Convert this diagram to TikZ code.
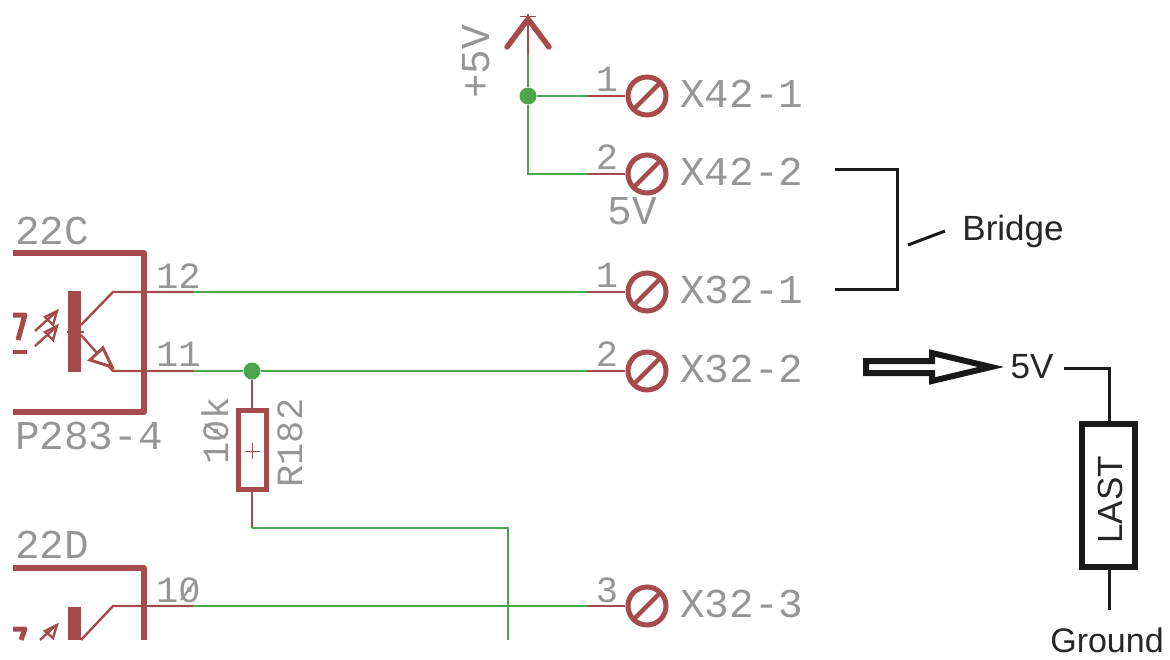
\documentclass[tikz,border=0pt]{standalone}
\usepackage{fontspec}
\setmainfont{Liberation Sans}
\newfontfamily\eaglefont{Liberation Mono}
\definecolor{sym}{HTML}{A54B4B}
\definecolor{net}{HTML}{4CA64C}
\definecolor{lbl}{HTML}{969696}
\usetikzlibrary{shapes.geometric,calc}
\tikzset{
  lab/.style={inner sep=0pt,text=lbl,font=\eaglefont\fontsize{41}{41}\selectfont},
  small/.style={inner sep=0pt,text=lbl,font=\eaglefont\fontsize{37}{37}\selectfont},
  blk/.style={inner sep=0pt,text=black!85,font=\fontsize{35}{35}\selectfont},
  symb/.style={draw=sym,line width=5.5pt,line join=round,line cap=round},
  pinw/.style={draw=sym,line width=2.4pt},
  netw/.style={draw=net,line width=2.8pt},
  term/.style={circle,draw=sym,line width=5pt,minimum size=38pt,inner sep=0pt,fill=white},
  dot/.style={circle,fill=net,inner sep=0pt,minimum size=17pt},
  bk/.style={draw=black!90,line width=3pt},
}
\begin{document}
\begin{tikzpicture}[x=1pt,y=-1pt]
\useasboundingbox (0,0) rectangle (1170,659);
% terminals
\foreach \n/\yy in {a/96,b/174,c/292,d/371,e/606}{
  \coordinate (w\n) at (587,\yy);
  \coordinate (p\n) at (625,\yy);
  \draw[pinw] (w\n) -- (p\n);
  \node[term] (t\n) at (647,\yy) {};
  \draw[draw=sym,line width=4.5pt] ($(t\n)+(-14,14)$) -- ($(t\n)+(14,-14)$);
}
% supply
\coordinate (sup) at (528,14);
\coordinate (supe) at (528,55);
\coordinate (corner) at (528,174);
\node[dot] (j1) at (528,96) {};
\draw[pinw] (sup) -- (supe);
\draw[netw] (supe) -- (j1);
\draw[netw] (j1) -- (wa);
\draw[netw] (j1) -- (corner) -- (wb);
\coordinate (hl) at (507,47);
\coordinate (hr) at (549,47);
\coordinate (ht) at (528,19);
\draw[symb,line width=5.5pt] (hl) -- (ht) -- (hr);
\draw[pinw,line width=1pt] (520,16) -- (536,16);
% optocoupler 22C
\draw[symb,line cap=butt] (13,253) -- (144,253) -- (144,412) -- (13,412);
\node[draw=none,fill=sym,minimum width=13pt,minimum height=81pt,inner sep=0pt] (bar1) at (74.5,331.5) {};
\coordinate (col1) at (193,292);
\coordinate (emi1) at (193,371);
\draw[pinw] (81,325) -- (113,292) -- (col1);
\draw[pinw] (81,335) -- (113,371) -- (emi1);
\draw[pinw,line width=1.4pt] (67,332) -- (84,332);
\draw[pinw,fill=white,line width=3pt] (90,360) -- (103,348) -- (112,367) -- cycle;
\foreach \dy in {0,15}{
  \draw[pinw] (35,331+\dy) -- (56,312+\dy);
  \draw[pinw,fill=none] (45,317+\dy) -- (57,311+\dy) -- (53,325+\dy) -- cycle;
}
\draw[symb,line cap=butt,line width=5pt] (13,315) -- (25,315) -- (18,340);
\draw[symb,line cap=butt,line width=4pt] (13,352) -- (27,352);
% wires
\node[dot] (j2) at (252,371) {};
\draw[netw] (col1) -- (wc);
\draw[netw] (emi1) -- (j2) -- (wd);
% resistor
\node[draw=sym,line width=5pt,minimum width=28pt,minimum height=79pt,inner sep=0pt] (r) at (252,450) {};
\draw[pinw,line width=1pt] (245,451) -- (260,451) (252,443) -- (252,459);
\coordinate (rb) at (252,528);
\coordinate (rr) at (508,528);
\coordinate (rd) at (508,640);
\draw[pinw] (j2) -- (r.north);
\draw[pinw] (r.south) -- (rb);
\draw[netw] (rb) -- (rr) -- (rd);
% optocoupler 22D
\draw[symb,line cap=butt] (13,568) -- (144,568) -- (144,640);
\node[fill=sym,minimum width=13pt,minimum height=33pt,inner sep=0pt] (bar2) at (74.5,623.5) {};
\coordinate (col2) at (193,606);
\draw[pinw] (81,640) -- (113,606) -- (col2);
\draw[netw] (col2) -- (we);
\draw[pinw] (40,640) -- (56,625);
\draw[pinw,fill=none] (45,631) -- (57,625) -- (53,638) -- cycle;
\draw[symb,line cap=butt,line width=5pt] (13,629) -- (25,629) -- (21,640);
% grey labels
\node[lab,anchor=center,rotate=90] at (476,62) {+5V};
\node[small] at (607,79) {1};
\node[small] at (607,157) {2};
\node[small] at (607,275) {1};
\node[small] at (607,354) {2};
\node[small] at (607,590) {3};
\node[lab] at (632,211) {5V};
\node[lab,anchor=west] at (680,94) {X42-1};
\node[lab,anchor=west] at (680,172) {X42-2};
\node[lab,anchor=west] at (680,290) {X32-1};
\node[lab,anchor=west] at (680,369) {X32-2};
\node[lab,anchor=west] at (680,604) {X32-3};
\node[lab,anchor=west] at (15,231) {22C};
\node[lab,anchor=west] at (15,436) {P283-4};
\node[lab,anchor=west] at (15,545) {22D};
\node[small,anchor=west] at (156,276) {12};
\node[small,anchor=west] at (156,354) {11};
\node[small,anchor=west] at (156,590) {10};
\node[small,rotate=90] at (215,431) {10k};
\node[small,rotate=90] at (290,443) {R182};
% slashed zeros of the schematic font
\draw[lbl,line width=2pt] (181,600) -- (196,580);
\draw[lbl,line width=2pt] (205,424) -- (225,438);
% black annotation
\coordinate (b1) at (835,169);
\coordinate (b2) at (897,169);
\coordinate (b3) at (897,289);
\coordinate (b4) at (835,289);
\draw[bk,line join=miter] (b1) -- (b2) -- (b3) -- (b4);
\node[blk] (bridge) at (1013,231) {Bridge};
\coordinate (tk) at (908,245);
\draw[bk] (tk) -- (945,231);
\draw[draw=black!90,line width=6pt,line join=miter,fill=white] (866,361) -- (932,361) -- (932,353) -- (991,367) -- (932,381) -- (932,373) -- (866,373) -- cycle;
\node[blk] (v5) at (1032,367) {5V};
\node[draw=black!90,line width=6pt,minimum width=53pt,minimum height=143pt,inner sep=0pt] (last) at (1108.5,495.5) {};
\node[blk,rotate=90] at (1110,500) {LAST};
\coordinate (lw) at (1064,368);
\coordinate (lc) at (1109,368);
\coordinate (gnd) at (1109,610);
\draw[bk] (lw) -- (lc) -- (lc |- last.north);
\draw[bk] (lc |- last.south) -- (gnd);
\node[blk,font=\fontsize{34}{34}\selectfont] (ground) at (1107,640) {Ground};
\end{tikzpicture}
\end{document}
